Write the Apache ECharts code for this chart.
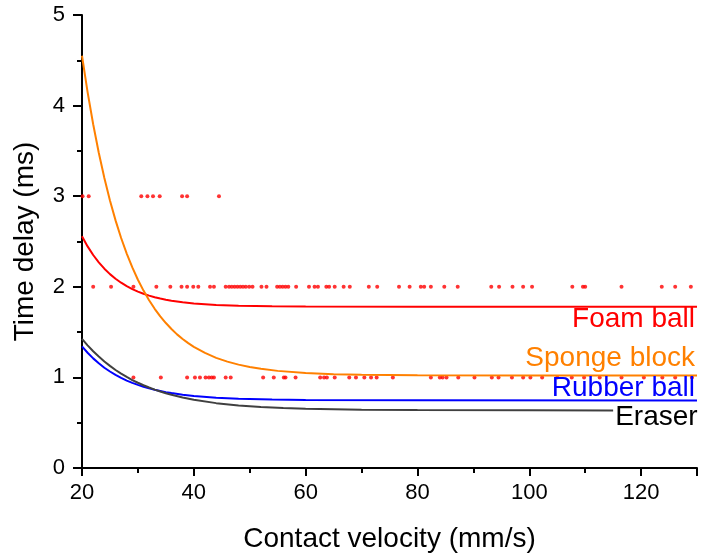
<!DOCTYPE html>
<html>
<head>
<meta charset="utf-8">
<script src="https://cdn.jsdelivr.net/npm/echarts@6/dist/echarts.min.js"></script>
<style>
html,body{margin:0;padding:0;background:#fff;}
#chart{width:701px;height:554px;}
</style>
</head>
<body>
<div id="chart"></div>
<script>
// ---- data ----
var xTitle = 'Contact velocity (mm/s)';
var yTitle = 'Time delay (ms)';

// measured points (velocity) at each time-delay level
var dotsAt3 = [20.1, 21.2, 30.6, 31.7, 32.7, 33.9, 37.9, 38.8, 44.5];
var dotsAt2 = [22.0, 25.2, 29.2, 33.3, 35.8, 37.8, 38.8, 39.9, 40.8, 42.9, 43.6,
  45.7, 46.3, 46.8, 47.3, 47.8, 48.3, 48.8, 49.3, 49.9, 50.5, 52.1, 53.0,
  54.9, 55.4, 55.9, 56.4, 56.9, 58.3, 60.6, 61.6, 62.2, 63.7, 64.2, 65.2, 66.8, 67.9,
  71.3, 72.8, 76.7, 78.6, 80.6, 81.2, 82.4, 84.8, 87.2, 93.2, 94.6, 97.0, 98.9, 100.5,
  107.7, 109.6, 110.0, 116.5, 123.7, 126.1, 128.9];
var dotsAt1 = [29.2, 34.1, 38.8, 40.2, 41.1, 42.1, 42.7, 43.2, 43.6, 45.7, 46.6,
  52.4, 54.3, 56.1, 56.4, 58.2, 62.6, 63.3, 63.8, 65.2, 67.8, 69.0, 70.5, 71.7, 72.7,
  75.6, 82.4, 84.0, 84.5, 85.2, 87.3, 90.2, 93.3, 94.5, 96.9, 98.9, 100.2, 102.3,
  105.0, 107.6, 109.8, 112.6, 116.5, 120.5, 123.8, 126.1, 129.1];

// fitted decay curves (x, y)
var foamX   = [20, 21, 22, 23, 24, 25, 26, 27, 28, 29, 30, 31, 32, 33, 34, 35, 36, 38, 40, 44, 48, 54, 60, 80, 100, 130];
var foamY   = [2.557, 2.446, 2.351, 2.270, 2.200, 2.140, 2.089, 2.045, 2.007, 1.975, 1.947, 1.923, 1.903, 1.885, 1.870, 1.857, 1.846, 1.829, 1.816, 1.799, 1.790, 1.784, 1.782, 1.780, 1.780, 1.780];
var spongeX = [20, 21, 22, 23, 24, 25, 26, 27, 28, 29, 30, 31, 32, 33, 34, 35, 36, 37, 38, 39, 40, 42, 44, 46, 48, 50, 52, 55, 60, 65, 70, 80, 100, 130];
var spongeY = [4.550, 4.149, 3.794, 3.479, 3.200, 2.953, 2.733, 2.539, 2.367, 2.214, 2.078, 1.958, 1.852, 1.757, 1.674, 1.600, 1.534, 1.475, 1.424, 1.378, 1.337, 1.270, 1.216, 1.174, 1.141, 1.115, 1.095, 1.072, 1.049, 1.036, 1.028, 1.023, 1.020, 1.020];
var rubberX = [20, 21, 22, 23, 24, 25, 26, 27, 28, 29, 30, 31, 32, 33, 34, 35, 36, 38, 40, 44, 48, 54, 60, 80, 130];
var rubberY = [1.342, 1.272, 1.210, 1.156, 1.107, 1.065, 1.028, 0.994, 0.965, 0.940, 0.917, 0.897, 0.879, 0.863, 0.850, 0.837, 0.827, 0.809, 0.795, 0.776, 0.764, 0.755, 0.750, 0.747, 0.746];
var eraserX = [20, 21, 22, 23, 24, 25, 26, 27, 28, 29, 30, 31, 32, 33, 34, 35, 36, 38, 40, 44, 48, 52, 56, 60, 70, 80, 100, 115];
var eraserY = [1.426, 1.354, 1.289, 1.230, 1.176, 1.127, 1.082, 1.042, 1.005, 0.971, 0.941, 0.913, 0.888, 0.865, 0.844, 0.825, 0.808, 0.778, 0.754, 0.716, 0.691, 0.674, 0.662, 0.654, 0.643, 0.639, 0.637, 0.636];

var xMin = 20, xMax = 130, xStep = 20;
var yMin = 0, yMax = 5, yStep = 1;

// ---- build ----
function pairs(xs, ys) { return xs.map(function (x, i) { return [x, ys[i]]; }); }
function level(xs, y) { return xs.map(function (x) { return [x, y]; }); }

var FONT = 'Arial, "Liberation Sans", sans-serif';
var RED = '#ff0000', ORANGE = '#ff8000', BLUE = '#0000ff', GRAY = '#404040';

function curve(name, data, color, lbl, lblColor) {
  return {
    name: name, type: 'line', data: data, showSymbol: false, symbol: 'none',
    smooth: false, z: 3,
    lineStyle: { color: color, width: 2 },
    itemStyle: { color: color },
    silent: true,
    markPoint: {
      symbol: 'circle', symbolSize: 0, silent: true,
      data: [{ coord: lbl.coord, value: name,
        label: { show: true, formatter: name, position: lbl.position, distance: 5,
          offset: lbl.offset, color: lblColor, fontSize: 28, fontFamily: FONT,
          align: lbl.align, verticalAlign: 'middle' } }]
    }
  };
}

var dots = [].concat(level(dotsAt3, 3), level(dotsAt2, 2), level(dotsAt1, 1));

var chart = echarts.init(document.getElementById('chart'), null, { renderer: 'canvas' });
chart.setOption({
  backgroundColor: '#ffffff',
  animation: false,
  grid: { left: 82, right: 4, top: 15, bottom: 86, containLabel: false, outerBoundsMode: 'none' },
  xAxis: {
    type: 'value', min: xMin, max: xMax, interval: xStep,
    name: xTitle, nameLocation: 'middle', nameGap: 57,
    nameTextStyle: { fontSize: 28, color: '#000', fontFamily: FONT },
    axisLine: { show: true, onZero: false, lineStyle: { color: '#000', width: 2 } },
    axisTick: { show: true, inside: false, length: 8, lineStyle: { color: '#000', width: 2 } },
    minorTick: { show: true, splitNumber: 2, length: 5, lineStyle: { color: '#000', width: 2 } },
    axisLabel: { fontSize: 22, color: '#000', fontFamily: FONT, margin: 14, showMaxLabel: false },
    splitLine: { show: false }
  },
  yAxis: {
    type: 'value', min: yMin, max: yMax, interval: yStep,
    name: yTitle, nameLocation: 'middle', nameGap: 43, nameRotate: 90,
    nameTextStyle: { fontSize: 28, color: '#000', fontFamily: FONT },
    axisLine: { show: true, onZero: false, lineStyle: { color: '#000', width: 2 } },
    axisTick: { show: true, inside: false, length: 9, lineStyle: { color: '#000', width: 2 } },
    minorTick: { show: true, splitNumber: 2, length: 5, lineStyle: { color: '#000', width: 2 } },
    axisLabel: { fontSize: 22, color: '#000', fontFamily: FONT, margin: 17 },
    splitLine: { show: false }
  },
  series: [
    { name: 'measured', type: 'scatter', data: dots, symbol: 'circle', symbolSize: 4,
      itemStyle: { color: RED }, z: 2, silent: true },
    curve('Foam ball', pairs(foamX, foamY), RED,
      { coord: [xMax, foamY[foamY.length - 1]], position: 'left', offset: [3, 13], align: 'right' }, RED),
    curve('Sponge block', pairs(spongeX, spongeY), ORANGE,
      { coord: [xMax, spongeY[spongeY.length - 1]], position: 'left', offset: [3, -17], align: 'right' }, ORANGE),
    curve('Rubber ball', pairs(rubberX, rubberY), BLUE,
      { coord: [xMax, rubberY[rubberY.length - 1]], position: 'left', offset: [3, -12.5], align: 'right' }, BLUE),
    curve('Eraser', pairs(eraserX, eraserY), GRAY,
      { coord: [eraserX[eraserX.length - 1], eraserY[eraserY.length - 1]], position: 'right', offset: [-3, 7], align: 'left' }, '#000')
  ]
});
</script>
</body>
</html>
